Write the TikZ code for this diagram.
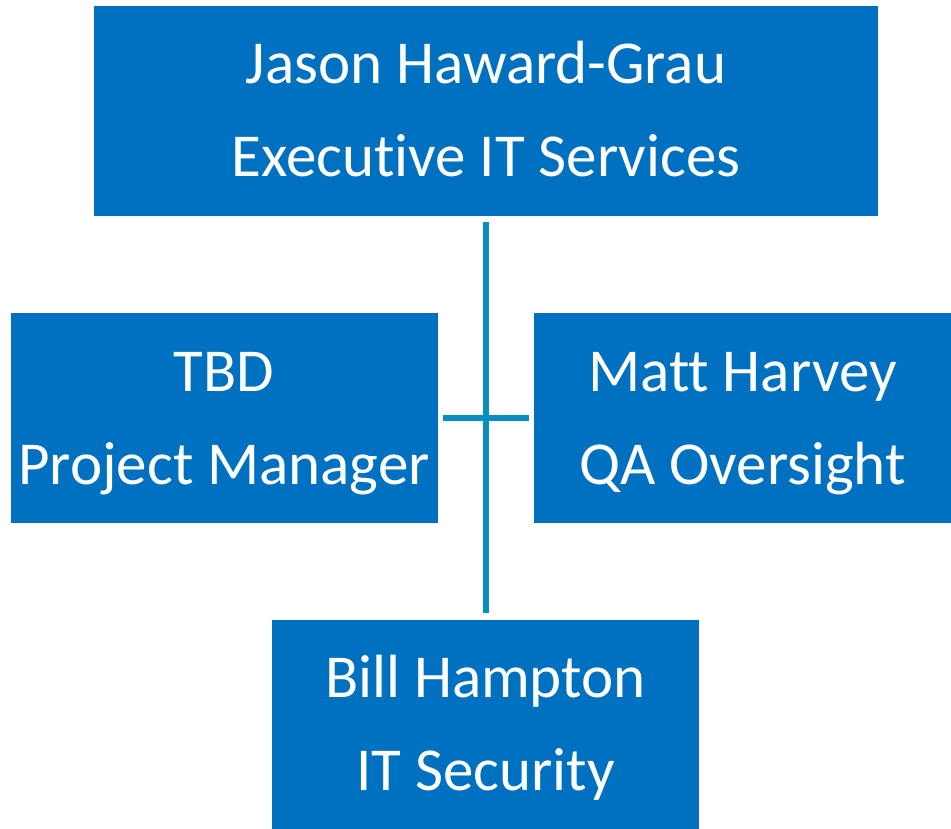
\documentclass[tikz,border=0pt]{standalone}
\usepackage{fontspec}
\setmainfont{Carlito}[RawFeature=-liga]
\definecolor{boxblue}{RGB}{0,112,192}
\definecolor{lineblue}{RGB}{10,142,192}
\tikzset{
  person/.style={fill=boxblue,text=white,inner sep=0pt,align=center,
    font=\fontsize{61}{93}\selectfont,text height=144pt,text depth=12pt,
    minimum height=210pt},
  link/.style={lineblue,line width=5.5pt}
}
\begin{document}
\begin{tikzpicture}[x=1pt,y=-1pt]
  \useasboundingbox (0,0) rectangle (951,829);
  \node [person,minimum width=784pt] (exec) at (486,111)
    {Jason Haward-Grau\\Executive IT Services};
  \node [person,minimum width=427pt] (pm) at (224,418)
    {TBD\\Project Manager};
  \node [person,minimum width=417pt] (qa) at (742.5,418)
    {Matt Harvey\\QA Oversight};
  \node [person,minimum width=427pt] (sec) at (485.5,724.5)
    {Bill Hampton\\IT Security};
  \draw [link,shorten <=6pt,shorten >=6pt]
    (exec.south)
    -- (exec.south |- sec.north)
  ;
  \draw [link,shorten <=5pt,shorten >=5pt]
    (pm.east)
    -- (qa.west)
  ;
\end{tikzpicture}
\end{document}
